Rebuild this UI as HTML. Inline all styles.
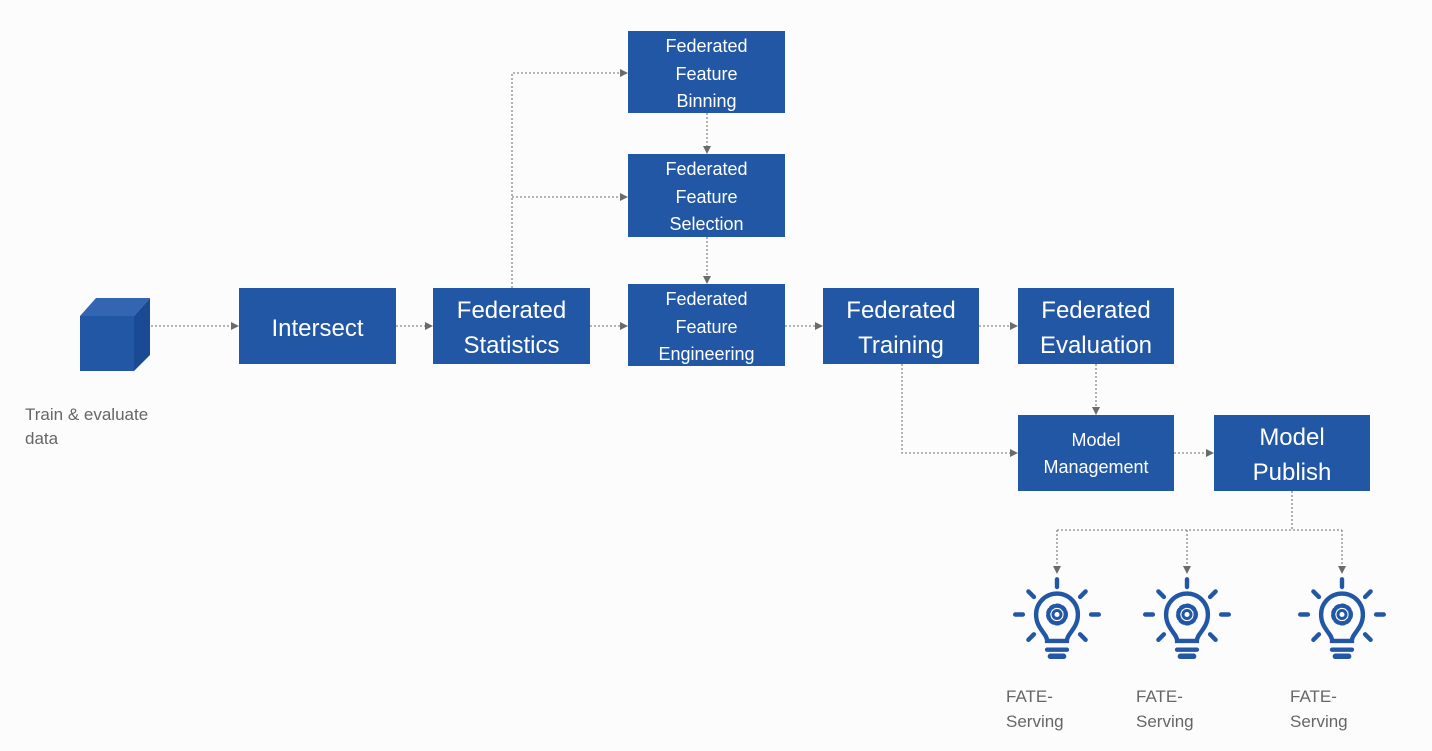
<!DOCTYPE html>
<html><head><meta charset="utf-8"><style>
html,body{margin:0;padding:0;background:#fcfcfc;}
svg{display:block;}
.b{fill:#2257a6;}
.t{fill:#fff;font-family:"Liberation Sans",sans-serif;text-anchor:middle;}
.s{font-size:18px;}
.l{font-size:24px;}
.c{stroke:#8a8a8a;stroke-width:1.3;stroke-dasharray:2 2;fill:none;}
.g{fill:#666;font-family:"Liberation Sans",sans-serif;font-size:17px;}
</style></head><body>
<svg width="1432" height="751" viewBox="0 0 1432 751" xmlns="http://www.w3.org/2000/svg">
<defs>
<marker id="a" markerWidth="8" markerHeight="8" refX="7" refY="4" orient="auto" markerUnits="userSpaceOnUse">
<path d="M0,0 L8,4 L0,8 z" fill="#6b6b6b"/></marker>
<g id="bulb" stroke="#2257a6" stroke-width="4" fill="none" stroke-linecap="round">
<line x1="0" y1="-37" x2="0" y2="-30"/>
<line x1="-26" y1="-26" x2="-21" y2="-21"/>
<line x1="26" y1="-26" x2="21" y2="-21"/>
<line x1="-38" y1="-5" x2="-31" y2="-5"/>
<line x1="38" y1="-5" x2="31" y2="-5"/>
<line x1="-26" y1="18" x2="-21" y2="13"/>
<line x1="26" y1="18" x2="21" y2="13"/>
<path d="M-9,19 C-9,12 -19,8 -19,-5 A19,19 0 1 1 19,-5 C19,8 9,12 9,19 Z" stroke-width="4"/>
<line x1="-9" y1="27" x2="9" y2="27"/>
<path d="M-6,33 L6,33" stroke-width="5"/>
<circle cx="0" cy="-5" r="8" stroke-width="4" stroke-dasharray="3 2.3"/>
<circle cx="0" cy="-5" r="5" fill="#2257a6" stroke="none"/>
<circle cx="0" cy="-5" r="2.3" fill="#fcfcfc" stroke="none"/>
</g>
</defs>

<!-- cube -->
<polygon points="80,316 96,298 150,298 134,316" fill="#3465b3"/>
<polygon points="134,316 150,298 150,355 134,371" fill="#1a4a94"/>
<rect x="80" y="316" width="54" height="55" class="b"/>
<text class="g" x="25" y="420">Train &amp; evaluate</text>
<text class="g" x="25" y="444">data</text>

<!-- boxes -->
<rect class="b" x="239" y="288" width="157" height="76"/>
<text class="t l" x="317.5" y="336">Intersect</text>

<rect class="b" x="433" y="288" width="157" height="76"/>
<text class="t l" x="511.5" y="318">Federated</text>
<text class="t l" x="511.5" y="353">Statistics</text>

<rect class="b" x="628" y="31" width="157" height="82"/>
<text class="t s" x="706.5" y="52">Federated</text>
<text class="t s" x="706.5" y="80">Feature</text>
<text class="t s" x="706.5" y="107">Binning</text>

<rect class="b" x="628" y="154" width="157" height="83"/>
<text class="t s" x="706.5" y="175">Federated</text>
<text class="t s" x="706.5" y="203">Feature</text>
<text class="t s" x="706.5" y="230">Selection</text>

<rect class="b" x="628" y="284" width="157" height="82"/>
<text class="t s" x="706.5" y="305">Federated</text>
<text class="t s" x="706.5" y="333">Feature</text>
<text class="t s" x="706.5" y="360">Engineering</text>

<rect class="b" x="823" y="288" width="156" height="76"/>
<text class="t l" x="901" y="318">Federated</text>
<text class="t l" x="901" y="353">Training</text>

<rect class="b" x="1018" y="288" width="156" height="76"/>
<text class="t l" x="1096" y="318">Federated</text>
<text class="t l" x="1096" y="353">Evaluation</text>

<rect class="b" x="1018" y="415" width="156" height="76"/>
<text class="t s" x="1096" y="446">Model</text>
<text class="t s" x="1096" y="473">Management</text>

<rect class="b" x="1214" y="415" width="156" height="76"/>
<text class="t l" x="1292" y="445">Model</text>
<text class="t l" x="1292" y="480">Publish</text>

<!-- connectors -->
<line class="c" x1="151" y1="326" x2="238" y2="326" marker-end="url(#a)"/>
<line class="c" x1="396" y1="326" x2="432" y2="326" marker-end="url(#a)"/>
<line class="c" x1="590" y1="326" x2="627" y2="326" marker-end="url(#a)"/>
<line class="c" x1="785" y1="326" x2="822" y2="326" marker-end="url(#a)"/>
<line class="c" x1="979" y1="326" x2="1017" y2="326" marker-end="url(#a)"/>
<polyline class="c" points="512,288 512,73 627,73" marker-end="url(#a)"/>
<line class="c" x1="512" y1="197" x2="627" y2="197" marker-end="url(#a)"/>
<line class="c" x1="707" y1="113" x2="707" y2="153" marker-end="url(#a)"/>
<line class="c" x1="707" y1="237" x2="707" y2="283" marker-end="url(#a)"/>
<line class="c" x1="1096" y1="364" x2="1096" y2="414" marker-end="url(#a)"/>
<polyline class="c" points="902,364 902,453 1017,453" marker-end="url(#a)"/>
<line class="c" x1="1174" y1="453" x2="1213" y2="453" marker-end="url(#a)"/>
<polyline class="c" points="1292,491 1292,530"/>
<line class="c" x1="1057" y1="530" x2="1342" y2="530"/>
<line class="c" x1="1057" y1="530" x2="1057" y2="573" marker-end="url(#a)"/>
<line class="c" x1="1187" y1="530" x2="1187" y2="573" marker-end="url(#a)"/>
<line class="c" x1="1342" y1="530" x2="1342" y2="573" marker-end="url(#a)"/>

<!-- bulbs -->
<g transform="translate(1057,620) scale(1.1)"><use href="#bulb"/></g>
<g transform="translate(1187,620) scale(1.1)"><use href="#bulb"/></g>
<g transform="translate(1342,620) scale(1.1)"><use href="#bulb"/></g>

<text class="g" x="1006" y="702">FATE-</text>
<text class="g" x="1006" y="727">Serving</text>
<text class="g" x="1136" y="702">FATE-</text>
<text class="g" x="1136" y="727">Serving</text>
<text class="g" x="1290" y="702">FATE-</text>
<text class="g" x="1290" y="727">Serving</text>
</svg>
</body></html>
